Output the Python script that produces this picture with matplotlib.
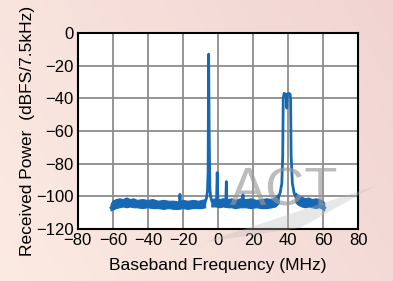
import numpy as np
import matplotlib
matplotlib.use("Agg")
import matplotlib.pyplot as plt
from matplotlib.colors import LinearSegmentedColormap
from matplotlib.patches import Polygon

plt.rcParams['font.family'] = ['Liberation Sans', 'DejaVu Sans']

# spectrum trace (MHz, dBFS)
freq = [-61, -60.5, -59, -57, -55, -53, -51.5, -50, -48, -46, -44, -42, -40, -38, -36,
        -34, -32, -30, -28, -26, -24, -22.5, -22, -21.7, -21.3, -21, -19, -17, -15, -13,
        -11, -9, -7.5, -6.5, -6, -5.6, -5.3, -5.0, -4.6, -4.2, -3.5, -2.5, -1.5, -0.8,
        -0.4, 0.0, 0.8, 2, 3.5, 4.5, 4.8, 5.1, 6, 8, 10, 12, 13.8, 14.3, 14.8, 16, 18,
        20, 22, 24, 26, 28, 30, 32, 34, 35.5, 36.5, 37, 37.3, 37.8, 38.5, 39.0, 39.3,
        39.6, 40.5, 41.2, 41.5, 41.8, 42.5, 43.5, 44.5, 46, 48, 50, 52, 54, 56, 58, 60, 61]
power = [-107, -106.5, -105.5, -104.5, -104, -104, -103.5, -104, -104.5, -104.5, -104.5, -105, -105, -105, -105,
         -105, -105, -105.5, -105.5, -105.5, -105.5, -106, -105.5, -98.8, -105, -105.5, -105.5, -105.5, -105, -105,
         -105, -105, -104, -101, -97, -85, -13, -60, -95, -100, -103, -104, -104, -103,
         -85.5, -103, -104, -104, -104, -103, -91, -103, -104, -104.5, -104.5, -104.5, -104, -99, -104, -104, -104.5,
         -104.5, -104.5, -104.5, -104.5, -104.5, -104, -103.5, -102, -98, -92, -75, -40, -37, -37.5, -37.5, -46,
         -37.5, -37, -37.5, -40, -75, -92, -98, -100.5, -102.5, -103.5, -104, -104.5, -104.5, -104.5, -105, -106, -107]

# noise band envelope (NaN = gap)
band_f = [-61, -60, -58, -56, -54, -52, -50, -48, -46, -43, -40, -37, -34, -31, -28, -25, -22, -20, -17, -14,
          -11, -9, -7, np.nan,
          -3.5, -1, 1, 3, 6, 8, 10, 13, 16, 19, 22, 25, 28, 31, 33, 35, np.nan,
          44.5, 46, 48, 50, 52, 54, 56, 58, 60, 61]
band_top = [-105, -103, -102, -101.5, -102, -101, -102, -101.5, -102.5, -102, -102.5, -102, -103, -102.5, -103, -103, -103.5, -102.5, -103, -102.5,
            -103, -102.5, -102, np.nan,
            -102, -101.5, -102, -101.5, -102, -101.5, -102.5, -101.5, -102, -101.5, -102.5, -102, -101.5, -102, -100.5, -98.5, np.nan,
            -98, -99.5, -100.5, -101.5, -101, -102, -101.5, -102, -103, -104]
band_bot = [-109, -108.5, -107.5, -107, -106.5, -107, -106.5, -107, -107, -107.5, -107, -107.5, -107.5, -108, -107.5, -108, -108, -107.5, -108, -107.5,
            -107.5, -107.5, -107, np.nan,
            -106.5, -106.5, -107, -106.5, -107, -107, -107.5, -107, -107, -107.5, -107, -107.5, -107.5, -107, -106.5, -104.5, np.nan,
            -104, -105.5, -106.5, -107, -106.5, -107, -107.5, -107, -108, -109]

xticks = [-80, -60, -40, -20, 0, 20, 40, 60, 80]
yticks = [0, -20, -40, -60, -80, -100, -120]

blue = '#1668b4'

fig = plt.figure(figsize=(3.93, 2.81), dpi=100)

# background gradient (bottom-left peach to top-right pink)
bg = fig.add_axes([0, 0, 1, 1], zorder=-10)
bg.axis('off')
cmap = LinearSegmentedColormap.from_list('bg', ['#fcebe3', '#f6dfda', '#f1d4d2'])
gx, gy = np.meshgrid(np.linspace(0, 1, 200), np.linspace(0, 1, 150))
bg.imshow((gx * 0.7 + gy * 0.3), origin='lower', aspect='auto', cmap=cmap, extent=[0, 1, 0, 1])
bg.set_xlim(0, 1); bg.set_ylim(0, 1)

ax = fig.add_axes([0.198, 0.185, 0.713, 0.698])
ax.set_facecolor('white')
ax.set_xlim(-80, 80)
ax.set_ylim(-120, 0)
ax.set_xticks(xticks)
ax.set_yticks(yticks)
ax.set_xticklabels([str(t).replace('-', '\u2212') for t in xticks])
ax.set_yticklabels([str(t).replace('-', '\u2212') for t in yticks])
ax.tick_params(length=0, labelsize=12, pad=3)
ax.grid(True, color='#8c8c8c', lw=1.3)
ax.set_axisbelow(True)
for s in ax.spines.values():
    s.set_linewidth(1.5)
    s.set_color('black')

bf = np.ma.masked_invalid(np.array(band_f, dtype=float))
bt = np.ma.masked_invalid(np.array(band_top, dtype=float))
bb = np.ma.masked_invalid(np.array(band_bot, dtype=float))
ax.fill_between(bf, bb, bt, color=blue, lw=0.8, edgecolor=blue, zorder=2)
ax.plot(freq, power, color=blue, lw=2, zorder=3, solid_joinstyle='round')

ax.set_xlabel('Baseband Frequency (MHz)', fontsize=12.5, labelpad=7)
ax.set_ylabel('Received Power  (dBFS/7.5kHz)', fontsize=12.5, labelpad=1)

# watermark
fig.patches.append(Polygon([[205/393, 1-242/281], [375/393, 1-186/281], [300/393, 1-228/281]],
                           closed=True, transform=fig.transFigure, facecolor='#bdbdbd',
                           alpha=0.35, lw=0, zorder=5))
fig.text(284/393, 1-191/281, 'ACT', fontsize=39, color='#999999', alpha=0.65,
         ha='center', va='center', zorder=6)

fig.savefig('out.png', dpi=100)
